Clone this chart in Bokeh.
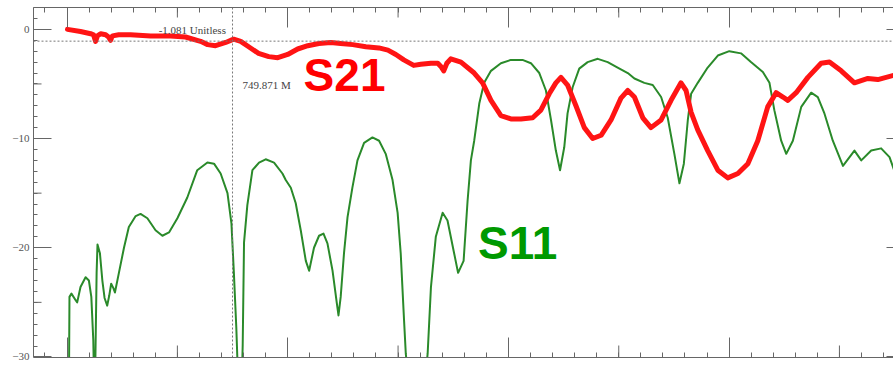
from bokeh.plotting import figure
from bokeh.models import LinearAxis, FixedTicker, Span, Range1d
from bokeh.embed import file_html
from bokeh.resources import INLINE
from bokeh.core.properties import value

# Frequency in GHz, magnitude in dB
s21_freq = [0.002, 0.061, 0.107, 0.120, 0.129, 0.138, 0.152, 0.175, 0.188, 0.197,
            0.206, 0.234, 0.288, 0.379, 0.469, 0.537, 0.605, 0.637, 0.673, 0.719,
            0.755, 0.787, 0.823, 0.868, 0.914, 0.955, 1.000, 1.045, 1.091, 1.141,
            1.195, 1.240, 1.295, 1.354, 1.413, 1.454, 1.490, 1.526, 1.571, 1.603,
            1.649, 1.680, 1.694, 1.707, 1.721, 1.739, 1.785, 1.845, 1.883, 1.921,
            1.966, 2.011, 2.057, 2.110, 2.147, 2.185, 2.215, 2.238, 2.268, 2.306,
            2.344, 2.382, 2.420, 2.465, 2.510, 2.541, 2.571, 2.609, 2.646, 2.692,
            2.737, 2.782, 2.805, 2.828, 2.858, 2.903, 2.949, 2.994, 3.040, 3.085,
            3.130, 3.175, 3.213, 3.244, 3.266, 3.304, 3.357, 3.417, 3.455, 3.508,
            3.568, 3.629, 3.674, 3.748]
s21_db = [0.0, -0.2, -0.4, -0.5, -1.1, -0.6, -0.4, -0.5, -0.7, -1.0,
          -0.6, -0.5, -0.5, -0.6, -0.6, -0.7, -1.1, -1.4, -1.5, -1.2,
          -0.9, -1.1, -1.6, -2.2, -2.5, -2.6, -2.3, -1.8, -1.5, -1.3,
          -1.2, -1.3, -1.4, -1.6, -1.7, -1.9, -2.3, -2.8, -3.3, -3.2,
          -3.1, -3.1, -3.4, -3.8, -3.1, -2.7, -3.0, -4.0, -4.9, -6.5,
          -7.9, -8.2, -8.2, -8.1, -7.4, -5.9, -4.9, -4.4, -5.1, -7.0,
          -9.0, -10.0, -9.7, -8.3, -6.3, -5.6, -6.2, -8.1, -9.0, -8.3,
          -6.5, -4.9, -5.6, -7.6, -9.2, -11.1, -12.9, -13.6, -13.2, -12.3,
          -10.2, -7.1, -5.8, -6.2, -6.5, -5.8, -4.4, -3.1, -3.0, -3.8,
          -4.9, -4.5, -4.6, -4.2]

s11_freq = [0.008, 0.011, 0.020, 0.039, 0.046, 0.061, 0.084, 0.099, 0.110, 0.119,
            0.125, 0.134, 0.138, 0.149, 0.160, 0.170, 0.182, 0.191, 0.200, 0.210,
            0.217, 0.235, 0.258, 0.280, 0.311, 0.333, 0.364, 0.401, 0.432, 0.462,
            0.500, 0.545, 0.590, 0.636, 0.666, 0.696, 0.727, 0.745, 0.756, 0.767,
            0.785, 0.796, 0.802, 0.817, 0.840, 0.870, 0.900, 0.938, 0.976, 0.991,
            1.014, 1.036, 1.059, 1.082, 1.097, 1.119, 1.142, 1.162, 1.180, 1.203,
            1.222, 1.230, 1.240, 1.255, 1.271, 1.293, 1.316, 1.346, 1.384, 1.414,
            1.444, 1.475, 1.498, 1.512, 1.527, 1.535, 1.585, 1.634, 1.649, 1.671,
            1.702, 1.724, 1.754, 1.772, 1.797, 1.815, 1.830, 1.845, 1.868, 1.890,
            1.921, 1.966, 2.011, 2.064, 2.102, 2.140, 2.170, 2.193, 2.215, 2.234,
            2.253, 2.268, 2.291, 2.321, 2.359, 2.405, 2.450, 2.495, 2.541, 2.571,
            2.616, 2.654, 2.692, 2.722, 2.752, 2.775, 2.795, 2.813, 2.828, 2.858,
            2.903, 2.949, 3.001, 3.054, 3.099, 3.153, 3.183, 3.205, 3.236, 3.259,
            3.289, 3.327, 3.372, 3.402, 3.432, 3.470, 3.516, 3.568, 3.599, 3.644,
            3.689, 3.727, 3.748]
s11_db = [-35.0, -24.5, -24.2, -24.8, -25.0, -23.6, -22.7, -23.0, -24.5, -28.5,
          -35.0, -22.3, -19.7, -20.5, -23.0, -24.6, -25.3, -24.4, -23.3, -23.7,
          -24.1, -22.3, -20.0, -18.1, -17.1, -16.9, -17.3, -18.4, -18.9, -18.6,
          -17.3, -15.4, -12.9, -12.2, -12.3, -13.2, -15.0, -17.8, -22.3, -27.3,
          -38.0, -28.9, -19.5, -16.1, -12.9, -12.2, -11.9, -12.2, -13.2, -13.8,
          -14.5, -15.9, -18.4, -21.2, -22.1, -20.0, -18.9, -18.7, -19.6, -22.1,
          -25.0, -26.2, -24.5, -20.5, -17.2, -14.5, -12.0, -10.4, -9.9, -10.2,
          -11.4, -13.8, -16.8, -20.5, -26.6, -29.7, -40.0, -29.7, -23.6, -19.0,
          -16.8, -17.5, -20.5, -22.3, -21.2, -15.7, -12.0, -10.2, -6.8, -4.9,
          -3.8, -3.1, -2.8, -2.8, -3.1, -4.0, -5.6, -8.3, -11.1, -12.9,
          -10.8, -7.7, -5.3, -3.6, -3.0, -2.7, -3.0, -3.5, -4.0, -4.5,
          -4.9, -5.1, -6.2, -8.1, -11.4, -14.1, -12.3, -8.3, -5.9, -4.9,
          -3.5, -2.4, -2.0, -2.2, -3.0, -3.9, -4.9, -7.4, -10.2, -11.4,
          -10.2, -7.1, -5.8, -6.2, -7.7, -10.2, -12.5, -11.1, -12.0, -11.1,
          -10.9, -11.7, -12.9]

# Marker readout
marker_freq = 0.749871
marker_db = -1.081
marker_freq_label = "749.871 M"
marker_db_label = "-1.081 Unitless"

y_major = [0, -10, -20, -30]
y_mid = [-5, -15, -25]
y_minor = list(range(-30, 3))
x_major = [0, 1, 2, 3]
x_mid = [0.5, 1.5, 2.5, 3.5]
x_minor = [round(-0.1 + 0.1 * i, 1) for i in range(39)]

X0, X1 = -0.152, 3.745
Y0, Y1 = -30.05, 2.0
FRAME_W, FRAME_H = 858, 350

AXIS = "#666666"
RED = "#ff1414"
GREEN = "#2a8a2a"

p = figure(width=893, height=366, output_backend="svg", toolbar_location=None,
           x_range=Range1d(X0, X1), y_range=Range1d(Y0, Y1),
           x_axis_location=None, y_axis_location=None,
           min_border_left=33, min_border_right=0, min_border_top=7, min_border_bottom=9)
p.grid.visible = False
p.outline_line_color = None
p.background_fill_color = "white"


def style_axis(ax, ticks, minor, tick_in, minor_in, labels=False):
    ax.ticker = FixedTicker(ticks=ticks, minor_ticks=minor)
    ax.axis_line_color = AXIS
    ax.major_tick_line_color = AXIS
    ax.minor_tick_line_color = AXIS
    ax.major_tick_in = tick_in
    ax.major_tick_out = 0
    ax.minor_tick_in = minor_in
    ax.minor_tick_out = 0
    if labels:
        ax.major_label_text_font = "Liberation Serif"
        ax.major_label_text_font_size = "11px"
        ax.major_label_text_color = "#555555"
        ax.major_label_standoff = 4
    else:
        ax.major_label_text_font_size = "0px"
        ax.major_label_text_color = None
        ax.major_label_standoff = 0


left = LinearAxis()
style_axis(left, y_major, y_minor, 18, 4, labels=True)
p.add_layout(left, "left")

right = LinearAxis()
style_axis(right, y_major, y_minor, 7, 0)
right.axis_line_color = None
right.minor_tick_line_color = None
p.add_layout(right, "right")

top = LinearAxis()
style_axis(top, x_major, x_minor, 20, 5)
p.add_layout(top, "above")

bottom = LinearAxis()
style_axis(bottom, x_major, x_minor, 20, 5)
p.add_layout(bottom, "below")

# half-division ticks
dx = (X1 - X0) / FRAME_W
dy = (Y1 - Y0) / FRAME_H
p.segment(x0=x_mid, x1=x_mid, y0=[Y0] * 4, y1=[Y0 + 12 * dy] * 4, line_color=AXIS, line_width=1)
p.segment(x0=x_mid, x1=x_mid, y0=[Y1] * 4, y1=[Y1 - 10 * dy] * 4, line_color=AXIS, line_width=1)
p.segment(x0=[X0] * 3, x1=[X0 + 8 * dx] * 3, y0=y_mid, y1=y_mid, line_color=AXIS, line_width=1)

# marker cursor lines
p.add_layout(Span(location=marker_freq, dimension="height", line_color="#777777",
                  line_dash="2 2", line_width=1))
p.add_layout(Span(location=marker_db, dimension="width", line_color="#777777",
                  line_dash="2 2", line_width=1))

p.line(s11_freq, s11_db, line_color=GREEN, line_width=2, line_join="round")
p.line(s21_freq, s21_db, line_color=RED, line_width=5, line_join="round", line_cap="round")

p.text(x=[marker_freq - 0.03], y=[marker_db + 1.05], text=[marker_db_label],
       text_font=value("Liberation Serif"), text_font_size="11px", text_color="#444444",
       text_align="right", text_baseline="alphabetic")
p.text(x=[marker_freq + 0.045], y=[-5.1], text=[marker_freq_label],
       text_font=value("Liberation Serif"), text_font_size="11px", text_color="#444444",
       text_align="left", text_baseline="alphabetic")

# trace names
p.text(x=[1.072], y=[-4.2], text=["S21"], text_font=value("Liberation Sans"),
       text_font_style="bold", text_font_size="46px", text_color="#ff0000",
       text_align="left", text_baseline="alphabetic")
p.text(x=[1.862], y=[-19.6], text=["S11"], text_font=value("Liberation Sans"),
       text_font_style="bold", text_font_size="46px", text_color="#009900",
       text_align="left", text_baseline="alphabetic")

open("out.html", "w").write(file_html(p, INLINE))
